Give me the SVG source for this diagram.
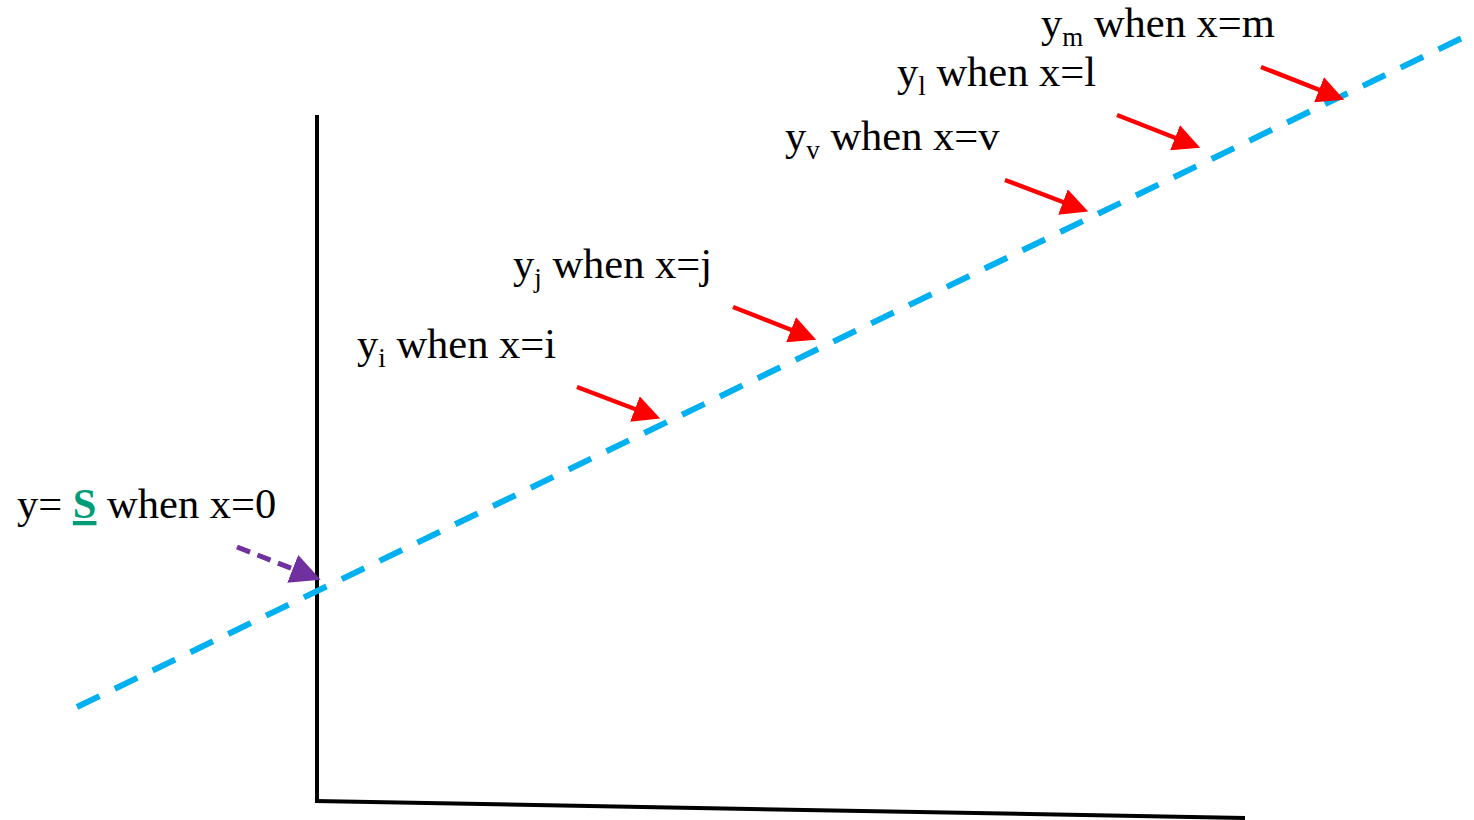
<svg xmlns="http://www.w3.org/2000/svg" width="1474" height="820" viewBox="0 0 1474 820">
<style>
.t{font-family:"Liberation Serif","Times New Roman",serif;font-size:42.5px;fill:#000}
.sub{font-size:27px}
.red{stroke:#FF0000;stroke-width:4.5;fill:none;marker-end:url(#ar)}
</style>
<defs>
<marker id="ar" markerWidth="6" markerHeight="6" refX="5" refY="3" orient="auto" markerUnits="strokeWidth"><path d="M0,0 L6,3 L0,6 Z" fill="#FF0000"/></marker>
<marker id="ap" markerWidth="6" markerHeight="6" refX="5" refY="3" orient="auto" markerUnits="strokeWidth"><path d="M0,0 L6,3 L0,6 Z" fill="#7030A0"/></marker>
</defs>
<g id="axes">
<line x1="317" y1="115" x2="317" y2="803" stroke="#000" stroke-width="4"/>
<line x1="315" y1="801" x2="1245" y2="818" stroke="#000" stroke-width="4"/>
</g>
<g id="trend">
<line x1="77" y1="707" x2="1462" y2="38" stroke="#00B0F0" stroke-width="6" stroke-dasharray="25 17"/>
</g>
<g id="connectors">
<line x1="237" y1="547" x2="316" y2="578" stroke="#7030A0" stroke-width="5" stroke-dasharray="14 8" marker-end="url(#ap)"/>
<line class="red" x1="577" y1="387" x2="656" y2="417"/>
<line class="red" x1="733" y1="307" x2="812" y2="338"/>
<line class="red" x1="1005" y1="180" x2="1084" y2="210"/>
<line class="red" x1="1117" y1="115" x2="1196" y2="146"/>
<line class="red" x1="1261" y1="67" x2="1340" y2="98"/>
</g>
<g id="label-s"><text class="t" x="17" y="518">y= <tspan fill="#009B77" font-weight="bold" text-decoration="underline">S</tspan> when x=0</text></g>
<g id="label-i"><text class="t" x="357" y="358">y<tspan class="sub" dy="9">i</tspan><tspan dy="-9"> when x=i</tspan></text></g>
<g id="label-j"><text class="t" x="513" y="278">y<tspan class="sub" dy="9">j</tspan><tspan dy="-9"> when x=j</tspan></text></g>
<g id="label-v"><text class="t" x="785" y="150">y<tspan class="sub" dy="9">v</tspan><tspan dy="-9"> when x=v</tspan></text></g>
<g id="label-l"><text class="t" x="897" y="86">y<tspan class="sub" dy="9">l</tspan><tspan dy="-9"> when x=l</tspan></text></g>
<g id="label-m"><text class="t" x="1041" y="37">y<tspan class="sub" dy="9">m</tspan><tspan dy="-9"> when x=m</tspan></text></g>
</svg>
